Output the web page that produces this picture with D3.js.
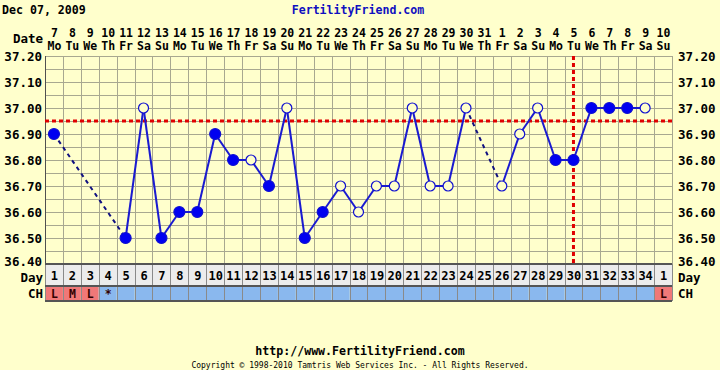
<!DOCTYPE html>
<html>
<head>
<meta charset="utf-8">
<script src="https://cdn.jsdelivr.net/npm/d3@7"></script>
<style>
  body { margin: 0; background: #ffffcc; }
  svg { display: block; }
</style>
</head>
<body>
<div id="chart"></div>
<script>
// chart values
const dates = [7, 8, 9, 10, 11, 12, 13, 14, 15, 16, 17, 18, 19, 20, 21, 22, 23, 24, 25, 26, 27, 28, 29, 30, 31,
               1, 2, 3, 4, 5, 6, 7, 8, 9, 10];
const weekdays = ["Mo", "Tu", "We", "Th", "Fr", "Sa", "Su", "Mo", "Tu", "We", "Th", "Fr", "Sa", "Su",
                  "Mo", "Tu", "We", "Th", "Fr", "Sa", "Su", "Mo", "Tu", "We", "Th", "Fr", "Sa", "Su",
                  "Mo", "Tu", "We", "Th", "Fr", "Sa", "Su"];
const cycleDays = [1, 2, 3, 4, 5, 6, 7, 8, 9, 10, 11, 12, 13, 14, 15, 16, 17, 18, 19, 20, 21, 22, 23, 24,
                   25, 26, 27, 28, 29, 30, 31, 32, 33, 34, 1];
const temps = [36.90, null, null, null, 36.50, 37.00, 36.50, 36.60, 36.60, 36.90, 36.80, 36.80, 36.70, 37.00,
               36.50, 36.60, 36.70, 36.60, 36.70, 36.70, 37.00, 36.70, 36.70, 37.00, null, 36.70, 36.90, 37.00,
               36.80, 36.80, 37.00, 37.00, 37.00, 37.00, null];
// "f" = filled marker, "o" = open marker
const markers = ["f", "", "", "", "f", "o", "f", "f", "f", "f", "f", "o", "f", "o",
                 "f", "f", "o", "o", "o", "o", "o", "o", "o", "o", "", "o", "o", "o",
                 "f", "f", "f", "f", "f", "o", ""];
const cm = ["L", "M", "L", "*", "", "", "", "", "", "", "", "", "", "", "", "", "", "", "", "", "", "", "",
            "", "", "", "", "", "", "", "", "", "", "", "L"];
const tempTicks = [36.40, 36.50, 36.60, 36.70, 36.80, 36.90, 37.00, 37.10, 37.20];
const coverline = 36.95;
const ovulationDay = 30;

const W = 720, H = 370;
const margin = {l: 45, r: 48, t: 56, b: 106};
const plotW = W - margin.l - margin.r;
const plotH = H - margin.t - margin.b;
const monoFont = "DejaVu Sans Mono, monospace";

const svg = d3.select("#chart").append("svg")
    .attr("width", W)
    .attr("height", H);

svg.append("rect").attr("width", W).attr("height", H).attr("fill", "#ffffcc");

const x = d3.scaleBand()
    .domain(d3.range(dates.length))
    .range([margin.l, margin.l + plotW]);
const y = d3.scaleLinear()
    .domain([36.40, 37.20])
    .range([margin.t + plotH, margin.t]);
const cx = i => x(i) + x.bandwidth() / 2;

function boldText(sel, size) {
    return sel.attr("font-family", monoFont).attr("font-weight", "bold").attr("font-size", size);
}

// header
boldText(svg.append("text"), 11.6).attr("x", 2).attr("y", 14)
    .attr("fill", "#000").text("Dec 07, 2009");
boldText(svg.append("text"), 11.6).attr("x", 358).attr("y", 14).attr("text-anchor", "middle")
    .attr("fill", "#1010c0").text("FertilityFriend.com");

// date rows
boldText(svg.append("text"), 12.5).attr("x", 43).attr("y", 43).attr("text-anchor", "end").text("Date");
const hdr = boldText(svg.append("g"), 11.5).attr("text-anchor", "middle");
hdr.selectAll(".dnum").data(dates).enter().append("text")
    .attr("x", (d, i) => cx(i) + 0.5).attr("y", 37).text(d => d);
hdr.selectAll(".dname").data(weekdays).enter().append("text")
    .attr("x", (d, i) => cx(i) + 0.5).attr("y", 50).text(d => d);

// grid
const grid = svg.append("g");
const minor = d3.range(0, 17).map(k => 36.40 + k * 0.05);
grid.selectAll(".hl").data(minor).enter().append("line")
    .attr("x1", margin.l).attr("x2", margin.l + plotW)
    .attr("y1", d => Math.round(y(d)) + 0.5).attr("y2", d => Math.round(y(d)) + 0.5)
    .attr("stroke", "#a8a890").attr("stroke-width", 1);
grid.selectAll(".vl").data(d3.range(dates.length + 1)).enter().append("line")
    .attr("x1", i => Math.round(margin.l + i * x.bandwidth()) + 0.5)
    .attr("x2", i => Math.round(margin.l + i * x.bandwidth()) + 0.5)
    .attr("y1", margin.t).attr("y2", margin.t + plotH)
    .attr("stroke", "#a8a890").attr("stroke-width", 1);
grid.append("line").attr("x1", margin.l + 0.5).attr("x2", margin.l + 0.5)
    .attr("y1", margin.t).attr("y2", margin.t + plotH).attr("stroke", "#505050");

// axes
const axisL = d3.axisLeft(y).tickValues(tempTicks).tickFormat(d3.format(".2f")).tickSize(0).tickPadding(3);
const axisR = d3.axisRight(y).tickValues(tempTicks).tickFormat(d3.format(".2f")).tickSize(0).tickPadding(6);
[svg.append("g").attr("transform", `translate(${margin.l},0)`).call(axisL),
 svg.append("g").attr("transform", `translate(${margin.l + plotW},0)`).call(axisR)]
    .forEach(g => {
        g.select(".domain").remove();
        boldText(g.selectAll("text"), 12.5).attr("fill", "#000")
            .attr("dy", d => d === 36.40 ? "0.1em" : "0.32em");
    });

// coverline & ovulation line
svg.append("line")
    .attr("x1", margin.l).attr("x2", margin.l + plotW)
    .attr("y1", y(coverline)).attr("y2", y(coverline))
    .attr("stroke", "#e00000").attr("stroke-width", 3).attr("stroke-dasharray", "4,3");
svg.append("line")
    .attr("x1", cx(ovulationDay - 1)).attr("x2", cx(ovulationDay - 1))
    .attr("y1", margin.t).attr("y2", margin.t + plotH)
    .attr("stroke", "#e00000").attr("stroke-width", 3).attr("stroke-dasharray", "4,3");

// temperature lines
const pts = temps.map((t, i) => ({i: i, t: t, m: markers[i]})).filter(d => d.t !== null);
const segs = d3.pairs(pts);
svg.append("g").selectAll("line").data(segs).enter().append("line")
    .attr("x1", d => cx(d[0].i)).attr("y1", d => y(d[0].t))
    .attr("x2", d => cx(d[1].i)).attr("y2", d => y(d[1].t))
    .attr("stroke", d => d[1].i - d[0].i > 1 ? "#101080" : "#1a1ad0")
    .attr("stroke-width", 2)
    .attr("stroke-dasharray", d => d[1].i - d[0].i > 1 ? "4,4" : null);

// markers
svg.append("g").selectAll("circle").data(pts).enter().append("circle")
    .attr("cx", d => cx(d.i)).attr("cy", d => y(d.t))
    .attr("r", d => d.m === "f" ? 5.5 : 5)
    .attr("fill", d => d.m === "f" ? "#0000f0" : "#ffffcc")
    .attr("stroke", "#1010d0").attr("stroke-width", 1.2);

// day row and CH row
const rowDayY = margin.t + plotH, rowDayH = 22, rowCmY = rowDayY + rowDayH, rowCmH = 15;
const rows = svg.append("g");
rows.append("rect").attr("x", margin.l).attr("y", rowDayY).attr("width", plotW).attr("height", rowDayH)
    .attr("fill", "#ececec");
rows.selectAll(".cm").data(cm).enter().append("rect")
    .attr("x", (d, i) => x(i)).attr("y", rowCmY).attr("width", x.bandwidth()).attr("height", rowCmH)
    .attr("fill", d => (d === "L" || d === "M") ? "#f07878" : "#8ab8ee");
rows.selectAll(".sep").data(d3.range(dates.length + 1)).enter().append("line")
    .attr("x1", i => Math.round(margin.l + i * x.bandwidth()) + 0.5)
    .attr("x2", i => Math.round(margin.l + i * x.bandwidth()) + 0.5)
    .attr("y1", rowDayY).attr("y2", rowCmY + rowCmH)
    .attr("stroke", "#8a8a8a");
[rowDayY, rowCmY, rowCmY + rowCmH].forEach(yy => {
    rows.append("line").attr("x1", margin.l).attr("x2", margin.l + plotW)
        .attr("y1", yy).attr("y2", yy).attr("stroke", "#555").attr("stroke-width", 2);
});
boldText(rows.selectAll(".dtxt").data(cycleDays).enter().append("text"), 12)
    .attr("x", (d, i) => cx(i) + 0.5).attr("y", rowDayY + 16)
    .attr("text-anchor", "middle").text(d => d);
boldText(rows.selectAll(".ctxt").data(cm).enter().append("text"), 11.5)
    .attr("x", (d, i) => cx(i) + 0.5).attr("y", rowCmY + 12)
    .attr("text-anchor", "middle").attr("fill", "#300000").text(d => d);

// row labels
[["Day", rowDayY + 18], ["CH", rowCmY + 12]].forEach(([t, yy]) => {
    boldText(svg.append("text"), 12.5).attr("x", 43).attr("y", yy).attr("text-anchor", "end").text(t);
    boldText(svg.append("text"), 12.5).attr("x", margin.l + plotW + 6).attr("y", yy).text(t);
});

// footer
boldText(svg.append("text"), 11.6).attr("x", 360).attr("y", 355).attr("text-anchor", "middle")
    .text("http://www.FertilityFriend.com");
svg.append("text").attr("x", 360).attr("y", 368).attr("text-anchor", "middle")
    .attr("font-family", monoFont).attr("font-size", 8)
    .text("Copyright \u00a9 1998-2010 Tamtris Web Services Inc. - All Rights Reserved.");
</script>
</body>
</html>
